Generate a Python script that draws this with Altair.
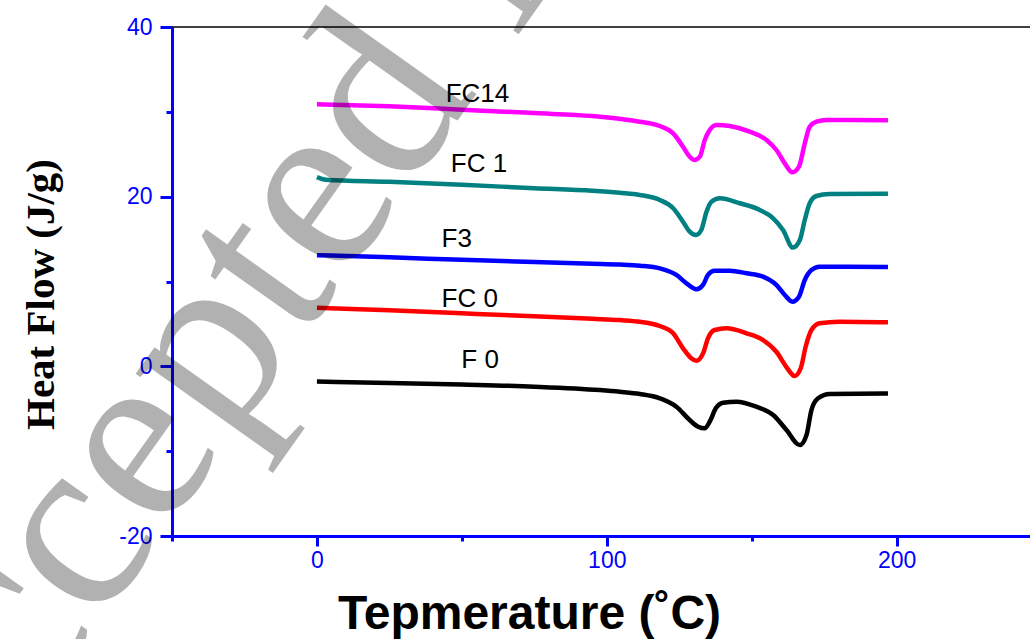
import altair as alt
import pandas as pd

# ---------------- data ----------------
series_names = ["FC14", "FC 1", "F3", "FC 0", "F 0"]
series_colors = ["#ff00ff", "#008080", "#0000ff", "#ff0000", "#000000"]

fc14_t = [0, 25, 50, 75, 95, 105, 111.4, 118.3, 122.9, 126.3, 128.6, 130.3, 132.1, 133.8, 135.5,
          137.8, 142.4, 149.3, 155.1, 158.5, 161.4, 164.0, 166.3, 168.3, 170.0, 172.3, 175.8, 180.3, 197]
fc14_v = [30.9, 30.65, 30.25, 29.85, 29.5, 29.15, 28.84, 28.33, 27.47, 25.89, 24.71, 24.32, 24.71, 26.68, 27.86,
          28.45, 28.33, 27.66, 26.68, 25.5, 23.93, 22.87, 23.53, 26.29, 28.25, 28.84, 29.04, 29.04, 29.0]

fc1_t = [0, 3, 25, 50, 75, 95, 104.5, 111.4, 118.3, 122.9, 126.3, 128.6, 130.7, 132.6, 134.4, 136.1,
         139.0, 145.9, 152.8, 157.4, 160.8, 164.2, 166.6, 168.3, 170.0, 172.3, 176.9, 197]
fc1_v = [22.3, 22.0, 21.75, 21.4, 21.0, 20.7, 20.45, 20.2, 19.61, 18.63, 17.05, 15.87, 15.48, 16.07, 18.23, 19.41,
         19.81, 19.22, 18.43, 17.45, 16.07, 14.0, 14.89, 17.25, 19.22, 20.08, 20.31, 20.35]

f3_t = [0, 25, 50, 75, 95, 104.5, 111.4, 118.3, 124.0, 127.5, 130.9, 133.2, 134.9, 137.2, 142.4, 148.2,
        153.9, 158.5, 161.4, 164.0, 166.3, 168.3, 170.6, 173.4, 180.3, 197]
f3_v = [13.1, 12.85, 12.55, 12.3, 12.1, 12.0, 11.86, 11.55, 10.77, 9.78, 9.08, 9.59, 10.77, 11.27, 11.27, 10.97,
        10.57, 9.59, 8.41, 7.62, 8.21, 10.18, 11.35, 11.75, 11.75, 11.7]

fc0_t = [0, 25, 50, 75, 95, 104.5, 111.4, 118.3, 122.9, 126.3, 129.2, 130.9, 133.2, 134.9, 137.2, 141.3,
         148.2, 153.9, 158.5, 161.9, 164.8, 166.9, 168.6, 170.6, 173.4, 180.3, 197]
fc0_v = [6.9, 6.6, 6.25, 5.9, 5.6, 5.45, 5.26, 4.75, 3.89, 2.12, 0.94, 0.66, 1.53, 3.3, 4.28, 4.48,
         3.89, 3.1, 1.72, -0.05, -1.14, -0.23, 2.31, 4.28, 5.07, 5.26, 5.2]

f0_t = [0, 25, 50, 75, 97.6, 104.5, 111.4, 118.3, 124.0, 128.6, 131.5, 133.8, 135.5, 137.6, 140.1, 144.7,
        151.6, 157.4, 162.0, 166.6, 168.9, 170.6, 172.9, 176.9, 197]
f0_v = [-1.8, -1.95, -2.15, -2.4, -2.8, -3.0, -3.26, -3.77, -4.76, -6.33, -7.12, -7.31, -6.53, -4.95, -4.29, -4.17,
        -4.76, -5.74, -7.51, -9.28, -8.1, -5.15, -3.77, -3.26, -3.2]

# curve label anchors (temperature, heat flow)
label_t = [44.4, 46.2, 43.0, 43.0, 49.8]
label_v = [31.16, 22.9, 14.07, 7.0, -0.2]

x_ticks = [-50, 0, 50, 100, 150, 200]
y_ticks = [-20, -10, 0, 10, 20, 30, 40]

# ---------------- build tables ----------------
all_t = [fc14_t, fc1_t, f3_t, fc0_t, f0_t]
all_v = [fc14_v, fc1_v, f3_v, fc0_v, f0_v]
rows = []
for name, ts, vs in zip(series_names, all_t, all_v):
    for t, v in zip(ts, vs):
        rows.append({"series": name, "T": t, "HF": v})
df = pd.DataFrame(rows)
labels_df = pd.DataFrame({"series": series_names, "T": label_t, "HF": label_v})

W, H = 858, 509
BLUE = "#0000ff"

x_scale = alt.Scale(domain=[-50, 246], nice=False, zero=False)
y_scale = alt.Scale(domain=[-20, 40], nice=False, zero=False)

x_axis = alt.Axis(
    values=x_ticks,
    labelExpr="datum.value % 100 === 0 ? '' + datum.value : ''",
    tickSize={"condition": {"test": "datum.value % 100 === 0", "value": 10}, "value": 5},
    tickWidth=3, tickColor=BLUE, domainColor=BLUE, domainWidth=3,
    labelColor=BLUE, labelFont="Liberation Sans", labelFontSize=23, labelPadding=3,
    labelFlush=False, grid=False,
    title="Tepmerature (˚C)", titleFont="Liberation Sans", titleFontWeight="bold",
    titleFontSize=48, titleColor="black", titleX=357, titleY=92,
    titleAlign="center", titleBaseline="alphabetic", titleAngle=0,
)
y_axis = alt.Axis(
    values=y_ticks,
    labelExpr="datum.value % 20 === 0 ? '' + datum.value : ''",
    tickSize={"condition": {"test": "datum.value % 20 === 0", "value": 12}, "value": 6},
    tickWidth=3, tickColor=BLUE, domainColor=BLUE, domainWidth=3,
    labelColor=BLUE, labelFont="Liberation Sans", labelFontSize=23, labelPadding=8,
    labelFlush=False, grid=False,
    title="Heat Flow (J/g)", titleFont="Liberation Serif", titleFontWeight="bold",
    titleFontSize=41, titleColor="black", titleX=-119, titleY=267,
    titleAlign="center", titleBaseline="alphabetic", titleAngle=270,
)

color = alt.Color("series:N", scale=alt.Scale(domain=series_names, range=series_colors), legend=None)

lines = alt.Chart(df).mark_line(interpolate="monotone", strokeWidth=4.5).encode(
    x=alt.X("T:Q", scale=x_scale, axis=x_axis),
    y=alt.Y("HF:Q", scale=y_scale, axis=y_axis),
    color=color,
    detail="series:N",
)

labels = alt.Chart(labels_df).mark_text(
    align="left", baseline="alphabetic", font="Liberation Sans", fontSize=26, color="black"
).encode(
    x=alt.X("T:Q", scale=x_scale),
    y=alt.Y("HF:Q", scale=y_scale),
    text="series:N",
)

top_line = alt.Chart(pd.DataFrame({"a": [0]})).mark_rule(color="black", strokeWidth=1.5).encode(
    x=alt.value(0), x2=alt.value(W), y=alt.value(0)
)

watermark = alt.Chart(pd.DataFrame({"w": ["Accepted Manuscript"]})).mark_text(
    align="left", baseline="alphabetic", font="Liberation Serif", fontSize=252,
    angle=305.4, color="black", opacity=0.3
).encode(
    x=alt.value(-245), y=alt.value(840), text="w:N"
)

chart = alt.layer(lines, labels, top_line, watermark).properties(
    width=W, height=H,
    autosize=alt.AutoSizeParams(type="none"),
    padding={"left": 172, "top": 27, "right": 0, "bottom": 103},
    background="white",
).configure_view(stroke=None)

chart.save("out.html", embed_options={"renderer": "svg", "actions": False})
